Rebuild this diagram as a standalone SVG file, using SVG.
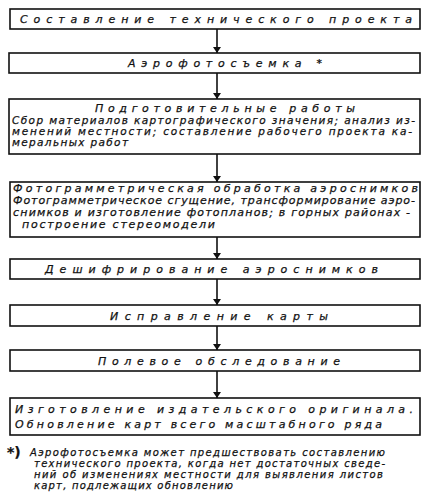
<svg xmlns="http://www.w3.org/2000/svg" width="429" height="503" viewBox="0 0 429 503">
<defs>
<marker id="ah" viewBox="0 0 6 12" refX="6" refY="6" markerWidth="6" markerHeight="12" markerUnits="userSpaceOnUse" orient="auto">
<path d="M0,2 L6,6 L0,10 Z" fill="#111"/>
</marker>
</defs>
<style>
rect{fill:#fff;stroke:#111;stroke-width:1.6}
text{font-family:"DejaVu Sans","Liberation Sans",sans-serif;font-style:italic;fill:#111;stroke:#111;stroke-width:0.25}
.t{font-size:11px}
.b{font-size:10.5px}
.d{font-size:11px}
.f{font-size:10px}
.c line{stroke:#111;stroke-width:1.6}
</style>
<rect width="429" height="503" style="fill:#fff;stroke:none"/>
<g class="c" id="connectors">
<line x1="217" y1="29" x2="217" y2="53" marker-end="url(#ah)"/>
<line x1="217" y1="73" x2="217" y2="99" marker-end="url(#ah)"/>
<line x1="217" y1="154" x2="217" y2="182" marker-end="url(#ah)"/>
<line x1="217" y1="237" x2="217" y2="259" marker-end="url(#ah)"/>
<line x1="217" y1="279" x2="217" y2="305" marker-end="url(#ah)"/>
<line x1="217" y1="326" x2="217" y2="350" marker-end="url(#ah)"/>
<line x1="217" y1="371" x2="217" y2="398" marker-end="url(#ah)"/>
</g>
<g id="n1">
<rect x="10" y="9" width="410" height="20"/>
<text class="t" x="20" y="23" textLength="392" lengthAdjust="spacing">Составление технического проекта</text>
</g>
<g id="n2">
<rect x="9" y="53" width="411" height="20"/>
<text class="t" x="128" y="67" textLength="194" lengthAdjust="spacing">Аэрофотосъемка *</text>
</g>
<g id="n3">
<rect x="9" y="99" width="411" height="55"/>
<text class="t" x="95" y="112" textLength="260" lengthAdjust="spacing">Подготовительные работы</text>
<text class="b" x="12" y="124" textLength="403" lengthAdjust="spacing">Сбор материалов картографического значения; анализ из-</text>
<text class="b" x="12" y="135" textLength="400" lengthAdjust="spacing">менений местности; составление рабочего проекта ка-</text>
<text class="b" x="12" y="146" textLength="116" lengthAdjust="spacing">меральных работ</text>
</g>
<g id="n4">
<rect x="10" y="182" width="410" height="55"/>
<text class="d" x="13" y="192" textLength="405" lengthAdjust="spacing">Фотограмметрическая обработка аэроснимков</text>
<text class="d" x="13" y="204" textLength="402" lengthAdjust="spacing">Фотограмметрическое сгущение, трансформирование аэро-</text>
<text class="d" x="13" y="216" textLength="397" lengthAdjust="spacing">снимков и изготовление фотопланов; в горных районах -</text>
<text class="d" x="22" y="228" textLength="193" lengthAdjust="spacing">построение стереомодели</text>
</g>
<g id="n5">
<rect x="10" y="259" width="410" height="20"/>
<text class="t" x="45" y="273" textLength="333" lengthAdjust="spacing">Дешифрирование аэроснимков</text>
</g>
<g id="n6">
<rect x="10" y="305" width="410" height="21"/>
<text class="t" x="110" y="320" textLength="218" lengthAdjust="spacing">Исправление карты</text>
</g>
<g id="n7">
<rect x="10" y="350" width="410" height="21"/>
<text class="t" x="98" y="365" textLength="242" lengthAdjust="spacing">Полевое обследование</text>
</g>
<g id="n8">
<rect x="10" y="398" width="410" height="37"/>
<text class="t" x="15" y="413" textLength="398" lengthAdjust="spacing">Изготовление издательского оригинала.</text>
<text class="t" x="15" y="428" textLength="367" lengthAdjust="spacing">Обновление карт всего масштабного ряда</text>
</g>
<g id="footnote">
<text x="7" y="457" style="font-size:14px;font-weight:bold;font-style:normal">*)</text>
<text class="f" x="30" y="456" textLength="355" lengthAdjust="spacing">Аэрофотосъемка может предшествовать составлению</text>
<text class="f" x="34" y="467" textLength="351" lengthAdjust="spacing">технического проекта, когда нет достаточных сведе-</text>
<text class="f" x="34" y="478" textLength="349" lengthAdjust="spacing">ний об изменениях местности для выявления листов</text>
<text class="f" x="34" y="489" textLength="199" lengthAdjust="spacing">карт, подлежащих обновлению</text>
</g>
</svg>
